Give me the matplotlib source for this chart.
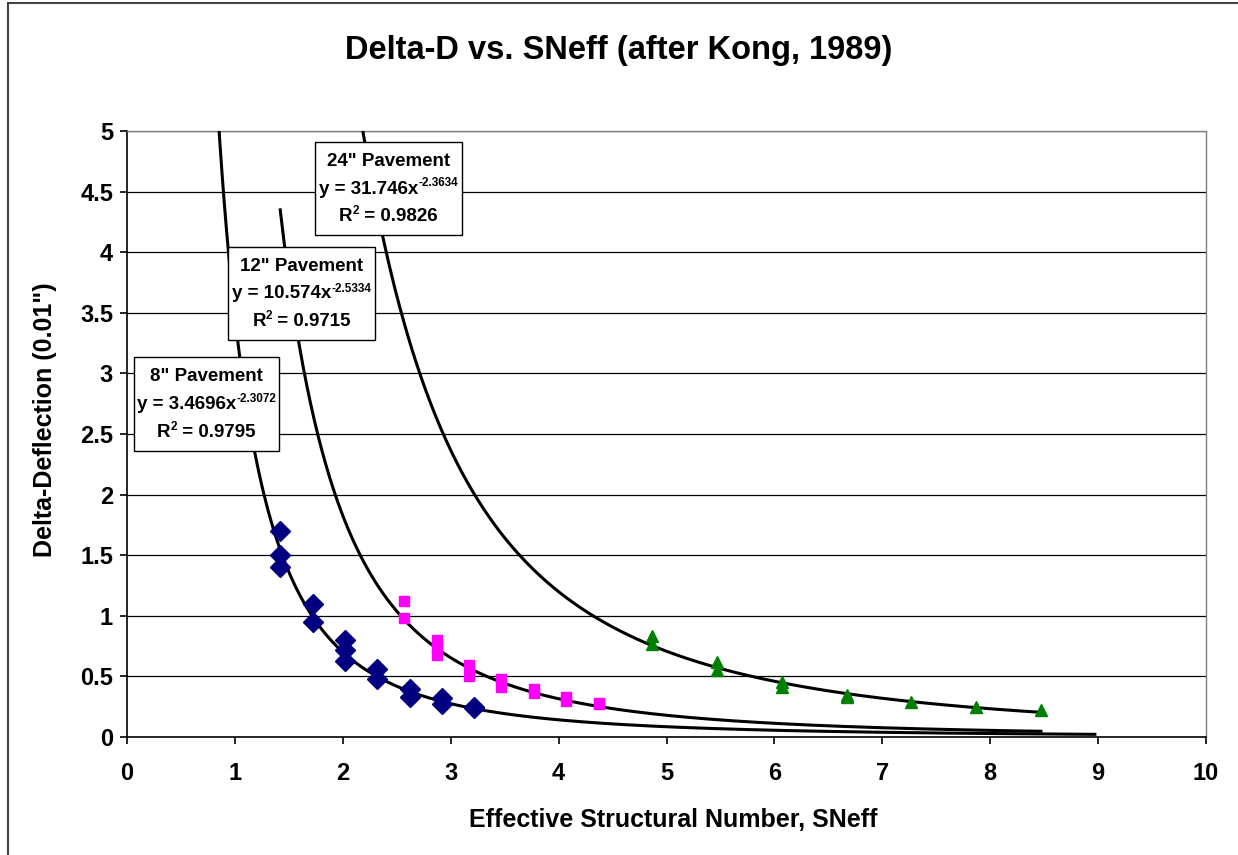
import matplotlib
matplotlib.use("Agg")
import matplotlib.pyplot as plt
import numpy as np
from matplotlib.patches import Rectangle

plt.rcParams['font.family'] = ['Liberation Sans', 'DejaVu Sans']

# 8" pavement (navy diamonds)
x8 = [1.42, 1.42, 1.42, 1.72, 1.72, 2.02, 2.02, 2.02, 2.32, 2.32, 2.62, 2.62, 2.92, 2.92, 3.22, 3.22]
y8 = [1.70, 1.50, 1.40, 1.10, 0.95, 0.80, 0.72, 0.63, 0.56, 0.48, 0.40, 0.33, 0.32, 0.27, 0.25, 0.24]
# 12" pavement (magenta squares)
x12 = [2.57, 2.57, 2.87, 2.87, 2.87, 3.17, 3.17, 3.47, 3.47, 3.77, 3.77, 4.07, 4.07, 4.37, 4.37]
y12 = [1.12, 0.98, 0.80, 0.74, 0.68, 0.59, 0.50, 0.48, 0.41, 0.40, 0.36, 0.33, 0.30, 0.28, 0.27]
# 24" pavement (green triangles)
x24 = [4.87, 4.87, 5.47, 5.47, 6.07, 6.07, 6.67, 6.67, 7.27, 7.87, 8.47]
y24 = [0.83, 0.77, 0.62, 0.55, 0.45, 0.41, 0.35, 0.33, 0.29, 0.25, 0.22]

# power trendlines y = a*x^b, with drawn x extent
fits = {
    '8':  dict(a=3.4696, b=-2.3072, r2=0.9795, xmin=0.80, xmax=8.97),
    '12': dict(a=10.574, b=-2.5334, r2=0.9715, xmin=1.42, xmax=8.47),
    '24': dict(a=31.746, b=-2.3634, r2=0.9826, xmin=2.10, xmax=8.47),
}

W, H = 1238, 855
fig = plt.figure(figsize=(W/100, H/100), dpi=100)
ax = fig.add_axes([127/W, 1-737/H, (1206-127)/W, (737-131)/H])

# chart frame (cropped on right/bottom)
fig.patches.append(Rectangle((8/W, -0.1), 1.2, 1.1 - 3/H, transform=fig.transFigure,
                             fill=False, ec='#444444', lw=1.5))

ax.set_xlim(0, 10)
ax.set_ylim(0, 5)
ax.set_yticks(np.arange(0, 5.01, 0.5))
ax.set_yticklabels(['0', '0.5', '1', '1.5', '2', '2.5', '3', '3.5', '4', '4.5', '5'])
ax.set_xticks(range(0, 11))
for v in np.arange(0.5, 5.01, 0.5):
    ax.axhline(v, color='black', lw=0.9, zorder=1)

for k, f in fits.items():
    xx = np.linspace(f['xmin'], f['xmax'], 400)
    ax.plot(xx, f['a'] * xx ** f['b'], color='black', lw=2.2, zorder=3)

ax.plot(x8, y8, ls='none', marker='D', ms=10, color='#000080', zorder=4)
ax.plot(x12, y12, ls='none', marker='s', ms=6.5, color='#FF00FF', zorder=4)
ax.plot(x24, y24, ls='none', marker='^', ms=8, color='#008000', zorder=4)

for s in ['left', 'bottom']:
    ax.spines[s].set_color('black')
    ax.spines[s].set_linewidth(1.2)
for s in ['right', 'top']:
    ax.spines[s].set_color('#808080')
    ax.spines[s].set_linewidth(1.0)

ax.tick_params(axis='both', direction='out', length=5, width=1.2, labelsize=17)
ax.tick_params(axis='y', pad=5)
ax.tick_params(axis='x', pad=13)
for lab in ax.get_xticklabels() + ax.get_yticklabels():
    lab.set_fontweight('bold')

fig.text(0.5, 1-50/H, 'Delta-D vs. SNeff (after Kong, 1989)', ha='center', va='center',
         fontsize=23.5, fontweight='bold')
fig.text(673/W, 1-820/H, 'Effective Structural Number, SNeff', ha='center', va='center',
         fontsize=18, fontweight='bold')
fig.text(45/W, 1-420/H, 'Delta-Deflection (0.01")', ha='center', va='center',
         rotation=90, fontsize=18, fontweight='bold')

renderer = fig.canvas.get_renderer()

def rich_line(cx, cy, parts, fs=13.5, sfs=8.5, rise=7):
    # parts: list of (text, is_superscript); centred at pixel (cx, cy)
    texts = []
    for txt, sup in parts:
        t = fig.text(0, 0, txt, fontsize=(sfs if sup else fs), fontweight='bold',
                     va='baseline', ha='left', zorder=6)
        texts.append((t, sup))
    widths = [t.get_window_extent(renderer).width for t, _ in texts]
    x = cx - sum(widths) / 2
    base = cy + 5
    for (t, sup), w in zip(texts, widths):
        t.set_position((x / W, 1 - (base - (rise if sup else 0)) / H))
        x += w

# trendline label boxes: (left, top, right, bottom) in pixels
boxes = {'24': (315, 142, 462, 235), '12': (228, 247, 375, 340), '8': (134, 357, 279, 451)}
for k, (l, t, r, b) in boxes.items():
    f = fits[k]
    fig.patches.append(Rectangle((l/W, 1-b/H), (r-l)/W, (b-t)/H, transform=fig.transFigure,
                                 fc='white', ec='black', lw=1.0, zorder=5))
    cx = (l + r) / 2
    h = b - t
    rich_line(cx, t + h * 0.2, [(f'{k}" Pavement', False)])
    rich_line(cx, t + h * 0.5, [(f'y = {f["a"]}x', False), (f'{f["b"]}', True)])
    rich_line(cx, t + h * 0.8, [('R', False), ('2', True), (f' = {f["r2"]}', False)])

fig.savefig('out.png', dpi=100)
